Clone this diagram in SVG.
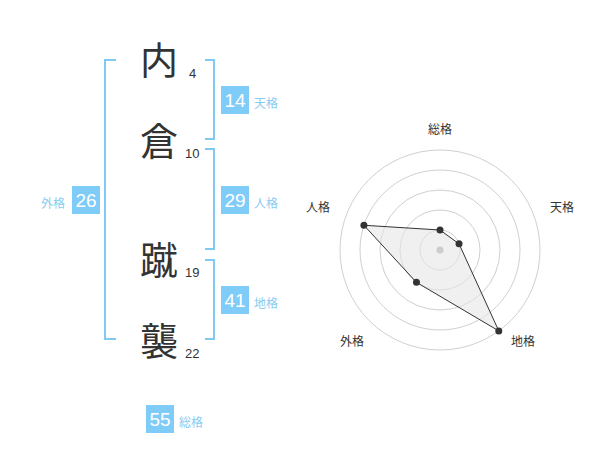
<svg xmlns="http://www.w3.org/2000/svg" width="600" height="470" viewBox="0 0 600 470">
<style>
.ch{font-family:"Noto Sans CJK JP","Noto Sans CJK SC",sans-serif;font-size:38px;fill:#333;text-anchor:middle}
.st{font-family:"Liberation Sans",Arial,sans-serif;font-size:13px;fill:#333}
.br{fill:none;stroke:#80c9f4;stroke-width:2}
.box{fill:#80ccf8}
.bn{font-family:"Liberation Sans",Arial,sans-serif;font-size:19px;fill:#fff;text-anchor:middle}
.bl{font-family:"Noto Sans CJK JP",sans-serif;font-size:12px;fill:#88cbf0}
.ring{fill:none;stroke:#d0d0d0;stroke-width:1}
.rl{font-family:"Noto Sans CJK JP",sans-serif;font-size:12px;fill:#333;text-anchor:middle}
.dot{fill:#333}
</style>
<rect width="600" height="470" fill="#fff"/>
<g id="connectors">
<path class="br" d="M116,60 H105 V339 H116"/>
<path class="br" d="M205,60 H214 V139 H205"/>
<path class="br" d="M205,149 H214 V249 H205"/>
<path class="br" d="M205,260 H214 V339 H205"/>
</g>
<g id="char1"><text class="ch" x="159" y="74">内</text><text class="st" x="189" y="78">4</text></g>
<g id="char2"><text class="ch" x="159" y="155">倉</text><text class="st" x="185" y="158">10</text></g>
<g id="char3"><text class="ch" x="159" y="274">蹴</text><text class="st" x="185" y="277">19</text></g>
<g id="char4"><text class="ch" x="159" y="355">襲</text><text class="st" x="185" y="358">22</text></g>
<g id="tenkaku"><rect class="box" x="221" y="86" width="28" height="28"/><text class="bn" x="235" y="107">14</text><text class="bl" x="254" y="108">天格</text></g>
<g id="jinkaku"><rect class="box" x="221" y="186" width="28" height="28"/><text class="bn" x="235" y="207">29</text><text class="bl" x="254" y="208">人格</text></g>
<g id="chikaku"><rect class="box" x="221" y="286" width="28" height="28"/><text class="bn" x="235" y="307">41</text><text class="bl" x="254" y="308">地格</text></g>
<g id="gaikaku"><rect class="box" x="72" y="186" width="28" height="28"/><text class="bn" x="86" y="207">26</text><text class="bl" x="41" y="208">外格</text></g>
<g id="soukaku"><rect class="box" x="146" y="405" width="28" height="28"/><text class="bn" x="160" y="426">55</text><text class="bl" x="179" y="427">総格</text></g>
<g id="radar">
<circle class="ring" cx="440" cy="250" r="20"/>
<circle class="ring" cx="440" cy="250" r="40"/>
<circle class="ring" cx="440" cy="250" r="60"/>
<circle class="ring" cx="440" cy="250" r="80"/>
<circle class="ring" cx="440" cy="250" r="100"/>
<polygon points="440,230 459.02,243.82 498.78,330.9 416.49,282.36 363.92,225.28" fill="#e6e6e6" fill-opacity="0.6" stroke="#333" stroke-width="1"/>
<circle cx="440" cy="250" r="3.5" fill="#ccc"/>
<circle class="dot" cx="440" cy="230" r="3.5"/>
<circle class="dot" cx="459.02" cy="243.82" r="3.5"/>
<circle class="dot" cx="498.78" cy="330.9" r="3.5"/>
<circle class="dot" cx="416.49" cy="282.36" r="3.5"/>
<circle class="dot" cx="363.92" cy="225.28" r="3.5"/>
<text class="rl" x="440" y="134">総格</text>
<text class="rl" x="562" y="212">天格</text>
<text class="rl" x="318" y="212">人格</text>
<text class="rl" x="523" y="346">地格</text>
<text class="rl" x="352" y="346">外格</text>
</g>
</svg>
